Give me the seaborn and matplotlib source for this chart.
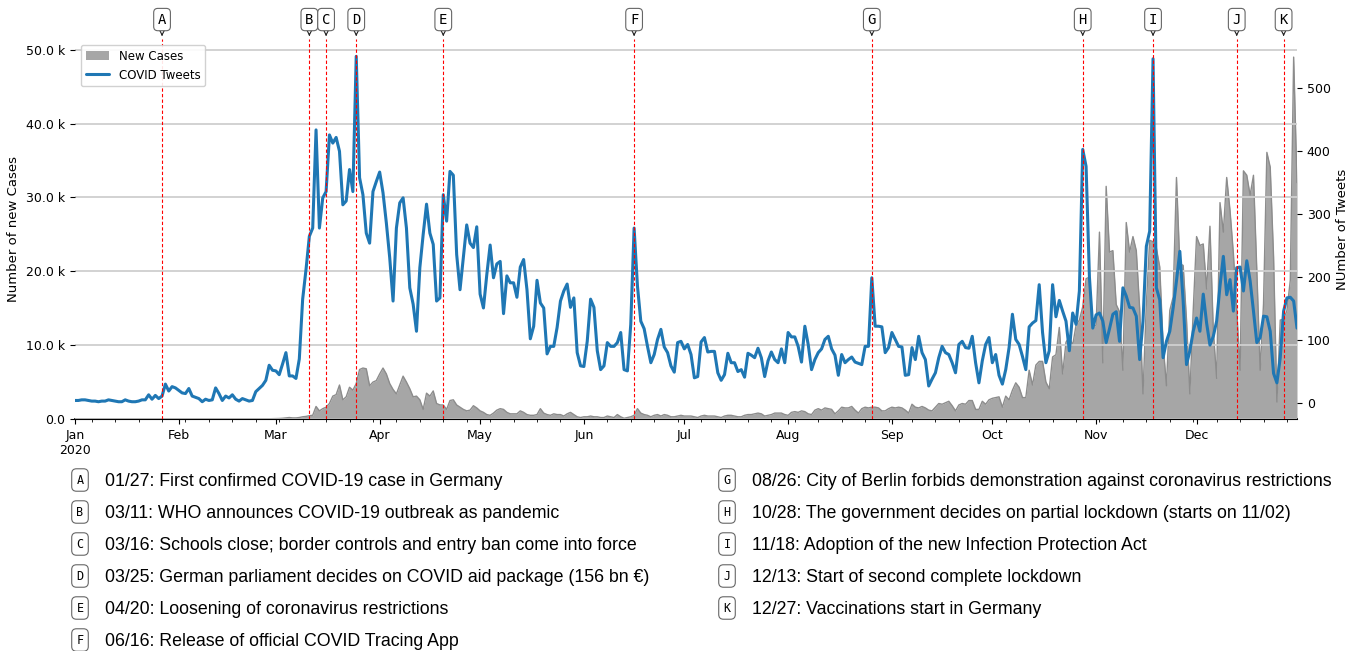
import numpy as np
import pandas as pd
import seaborn as sns
import matplotlib.pyplot as plt
import matplotlib.dates as mdates
from matplotlib.ticker import EngFormatter
from matplotlib.patches import Patch
from matplotlib.lines import Line2D

DATES = pd.date_range("2020-01-01", "2020-12-31", freq="D")

# daily new cases in thousands, one row block per month
NEW_CASES_K = [
    # Jan
    0, 0, 0, 0, 0, 0, 0, 0, 0, 0, 0, 0, 0, 0, 0, 0, 0, 0, 0, 0,
    0, 0, 0, 0, 0, 0, 0, 0, 0, 0, 0,
    # Feb
    0, 0, 0, 0, 0, 0, 0, 0, 0, 0, 0, 0, 0, 0, 0, 0, 0, 0, 0, 0,
    0, 0, 0, 0, 0, 0.01, 0.02, 0.03, 0.05,
    # Mar
    0.05, 0.07, 0.10, 0.15, 0.20, 0.15, 0.15, 0.20, 0.30, 0.35,
    0.45, 0.50, 1.7, 1.1, 1.4, 1.6, 2.1, 3.1, 3.3, 4.6,
    2.6, 3.0, 4.3, 3.9, 4.8, 6.7, 6.9, 6.8, 4.5, 5.0, 5.2,
    # Apr
    6.1, 6.9, 6.1, 4.8, 4.0, 3.4, 4.6, 5.8, 5.0, 4.1,
    3.0, 3.1, 2.6, 1.3, 3.5, 3.1, 3.8, 2.1, 1.9, 1.9,
    1.3, 2.5, 2.6, 1.9, 1.6, 1.3, 1.1, 1.2, 1.8, 1.5,
    # May
    1.1, 0.9, 0.6, 0.5, 0.8, 1.2, 1.4, 1.3, 0.9, 0.7,
    0.7, 0.7, 1.1, 0.9, 0.6, 0.5, 0.5, 0.6, 1.4, 0.8,
    0.6, 0.5, 0.7, 0.6, 0.6, 0.4, 0.7, 0.9, 0.6, 0.3, 0.2,
    # Jun
    0.3, 0.3, 0.4, 0.3, 0.3, 0.2, 0.2, 0.4, 0.3, 0.2,
    0.6, 0.3, 0.1, 0.2, 0.3, 0.5, 1.4, 0.8, 0.6, 0.5,
    0.3, 0.5, 0.6, 0.4, 0.6, 0.5, 0.3, 0.3, 0.4, 0.5,
    # Jul
    0.4, 0.4, 0.4, 0.3, 0.2, 0.4, 0.5, 0.4, 0.4, 0.4,
    0.3, 0.2, 0.4, 0.5, 0.5, 0.4, 0.3, 0.3, 0.5, 0.6,
    0.6, 0.7, 0.8, 0.7, 0.4, 0.5, 0.6, 0.8, 0.8, 0.8, 0.6,
    # Aug
    0.5, 0.9, 1.0, 0.9, 1.1, 1.0, 0.7, 0.6, 1.2, 1.4,
    1.2, 1.5, 1.4, 1.3, 0.7, 1.1, 1.6, 1.5, 1.5, 1.7,
    1.2, 0.8, 1.4, 1.6, 1.5, 1.6, 1.6, 1.5, 1.1, 1.1, 1.4,
    # Sep
    1.6, 1.5, 1.6, 1.5, 1.2, 0.8, 2.0, 1.6, 1.5, 1.7,
    1.5, 1.2, 1.1, 1.6, 2.1, 2.0, 2.2, 2.4, 1.8, 1.1,
    1.9, 2.1, 2.0, 2.5, 2.5, 1.3, 1.3, 2.4, 2.0, 2.6,
    # Oct
    2.8, 2.9, 3.0, 1.6, 3.1, 2.6, 3.9, 4.9, 4.3, 2.9,
    2.9, 6.6, 4.6, 7.3, 7.8, 7.8, 5.0, 4.1, 8.4, 8.7,
    12.4, 6.1, 10.4, 11.1, 10.0, 12.7, 13.4, 15.2, 19.0, 19.2, 12.5,
    # Nov
    12.7, 25.3, 7.6, 31.5, 22.6, 22.8, 15.5, 14.5, 6.6, 26.6,
    22.6, 24.7, 22.8, 15.0, 3.4, 15.6, 24.2, 24.0, 23.1, 20.6,
    10.2, 4.5, 14.7, 16.5, 32.7, 21.0, 20.8, 13.4, 3.4, 14.7,
    # Dec
    24.7, 23.5, 23.7, 17.6, 26.1, 12.0, 5.5, 29.3, 25.3, 32.7,
    28.2, 22.4, 14.7, 6.6, 33.6, 33.0, 30.3, 33.0, 20.1, 6.6,
    15.6, 36.1, 34.1, 22.0, 2.3, 13.4, 13.5, 14.7, 18.8, 49.0, 32.0,
]

# daily number of COVID tweets
TWEETS = [
    # Jan
    4, 4, 5, 5, 4, 3, 3, 2, 3, 3, 5, 4, 3, 2, 2, 5, 3, 2, 2, 3,
    5, 5, 13, 6, 12, 7, 11, 30, 19, 26, 24,
    # Feb
    20, 16, 15, 23, 11, 9, 7, 2, 6, 4, 5, 24, 15, 4, 11, 8, 13, 6, 3,
    7, 5, 3, 4, 18, 23, 28, 36, 60, 52,
    # Mar
    51, 45, 62, 80, 43, 43, 39, 70, 165, 212,
    265, 278, 434, 278, 326, 336, 426, 413, 422, 400,
    315, 321, 371, 336, 551, 358, 331, 270, 254, 336, 352,
    # Apr
    367, 334, 286, 231, 162, 278, 318, 326, 278, 183,
    157, 114, 215, 268, 316, 270, 252, 162, 167, 331,
    289, 368, 362, 236, 180, 231, 283, 254, 247, 280,
    # May
    173, 151, 204, 251, 199, 221, 225, 142, 202, 191,
    191, 168, 216, 228, 180, 102, 122, 195, 159, 151,
    78, 90, 90, 120, 162, 178, 189, 152, 167, 80, 59,
    # Jun
    58, 98, 165, 152, 83, 53, 59, 96, 90, 90,
    96, 112, 53, 51, 125, 278, 186, 130, 118, 90,
    64, 77, 101, 117, 89, 80, 59, 49, 96, 98,
    # Jul
    86, 93, 77, 40, 42, 97, 104, 81, 82, 82,
    48, 36, 45, 79, 64, 64, 50, 53, 41, 79,
    76, 72, 87, 72, 42, 67, 81, 69, 64, 86, 64,
    # Aug
    112, 105, 105, 90, 65, 122, 93, 53, 69, 80,
    86, 101, 106, 86, 76, 44, 77, 64, 69, 73,
    65, 63, 61, 90, 90, 199, 122, 122, 121, 80, 88,
    # Sep
    112, 101, 90, 89, 44, 45, 88, 69, 106, 80,
    69, 27, 38, 48, 72, 90, 80, 77, 64, 48,
    93, 98, 88, 87, 106, 64, 32, 67, 93, 104,
    # Oct
    64, 77, 44, 30, 53, 88, 141, 101, 93, 74,
    53, 121, 127, 131, 188, 112, 64, 83, 188, 137,
    163, 146, 130, 83, 143, 125, 178, 403, 376, 200, 119,
    # Nov
    140, 143, 130, 96, 118, 141, 145, 98, 183, 170,
    152, 151, 138, 69, 130, 249, 273, 547, 183, 164,
    72, 98, 114, 151, 194, 241, 162, 61, 83, 114,
    # Dec
    135, 114, 173, 127, 92, 106, 130, 186, 233, 172,
    196, 146, 215, 216, 178, 226, 194, 146, 96, 104,
    138, 137, 114, 47, 32, 72, 146, 167, 168, 162, 119,
]

MONTH_LABELS = ["Jan\n2020", "Feb", "Mar", "Apr", "May", "Jun",
                "Jul", "Aug", "Sep", "Oct", "Nov", "Dec"]

EVENT_LETTERS = ["A", "B", "C", "D", "E", "F", "G", "H", "I", "J", "K"]
EVENT_DATES = ["2020-01-27", "2020-03-11", "2020-03-16", "2020-03-25", "2020-04-20",
               "2020-06-16", "2020-08-26", "2020-10-28", "2020-11-18", "2020-12-13",
               "2020-12-27"]
EVENT_TEXTS = [
    "01/27: First confirmed COVID-19 case in Germany",
    "03/11: WHO announces COVID-19 outbreak as pandemic",
    "03/16: Schools close; border controls and entry ban come into force",
    "03/25: German parliament decides on COVID aid package (156 bn \u20ac)",
    "04/20: Loosening of coronavirus restrictions",
    "06/16: Release of official COVID Tracing App",
    "08/26: City of Berlin forbids demonstration against coronavirus restrictions",
    "10/28: The government decides on partial lockdown (starts on 11/02)",
    "11/18: Adoption of the new Infection Protection Act",
    "12/13: Start of second complete lockdown",
    "12/27: Vaccinations start in Germany",
]

assert len(NEW_CASES_K) == len(DATES) and len(TWEETS) == len(DATES)

sns.set_style("ticks")
plt.rcParams["font.family"] = ["DejaVu Sans"]
for key in ("text.color", "axes.labelcolor", "xtick.color", "ytick.color", "axes.edgecolor"):
    plt.rcParams[key] = "black"

df = pd.DataFrame({"date": DATES,
                   "cases": np.array(NEW_CASES_K) * 1000,
                   "tweets": TWEETS})

W, H = 1351, 651
fig = plt.figure(figsize=(W / 100, H / 100), dpi=100)
ax = fig.add_axes([75 / W, 1 - 419 / H, (1297 - 75) / W, (419 - 39) / H])
ax2 = ax.twinx()

# new cases area (left axis)
ax.fill_between(df["date"], df["cases"], color="gray", alpha=0.7, lw=0, zorder=1)
sns.lineplot(data=df, x="date", y="cases", ax=ax, color="#8c8c8c", lw=1.0, zorder=1.5)
ax.set_ylim(bottom=0)
ax.set_axisbelow(False)
ax.grid(axis="y", color="#cfcfcf", lw=1.3)
ax.yaxis.set_major_formatter(EngFormatter(places=1))
ax.set_ylabel("Number of new Cases", fontsize=9.5)
ax.set_xlabel("")

# tweets line (right axis)
sns.lineplot(data=df, x="date", y="tweets", ax=ax2, color="#1f77b4", lw=2.2)
ax2.set_ylabel("NUmber of Tweets", fontsize=9.5)
ax2.set_xlabel("")

month_starts = pd.date_range("2020-01-01", "2020-12-01", freq="MS")
ax.set_xticks(month_starts, MONTH_LABELS)
ax.xaxis.set_minor_locator(mdates.WeekdayLocator(byweekday=mdates.MO))
ax.set_xlim(DATES[0], DATES[-1])

for a in (ax, ax2):
    for side in ("top", "left", "right"):
        a.spines[side].set_visible(False)
    a.tick_params(labelsize=9)
ax.spines["bottom"].set_linewidth(1.2)

# event markers
for letter, d in zip(EVENT_LETTERS, EVENT_DATES):
    d = pd.Timestamp(d)
    ax2.axvline(d, color="red", ls=(0, (3, 2)), lw=0.8, zorder=5)
    ax2.annotate(letter, xy=(d, 1.0), xycoords=("data", "axes fraction"),
                 xytext=(0, 14), textcoords="offset points", ha="center", va="center",
                 family="DejaVu Sans Mono", fontsize=10,
                 bbox=dict(boxstyle="round,pad=0.3", fc="white", ec="#666666", lw=0.8),
                 arrowprops=dict(arrowstyle="->", color="#222222", lw=0.8),
                 annotation_clip=False)

handles = [Patch(color="gray", alpha=0.7, lw=0),
           Line2D([], [], color="#1f77b4", lw=2.2)]
ax2.legend(handles, ["New Cases", "COVID Tweets"], loc="upper left", fontsize=8.5,
           framealpha=0.9)

# event descriptions under the chart
for i, (letter, text) in enumerate(zip(EVENT_LETTERS, EVENT_TEXTS)):
    if i < 6:
        bx, ty = 80, 480 + 32 * i
    else:
        bx, ty = 727, 480 + 32 * (i - 6)
    fig.text(bx / W, 1 - ty / H, letter, ha="center", va="center",
             family="DejaVu Sans Mono", fontsize=8.5,
             bbox=dict(boxstyle="round,pad=0.4", fc="white", ec="#666666", lw=0.8))
    fig.text((bx + 25) / W, 1 - (ty + 1) / H, text, ha="left", va="center",
             family="Liberation Sans", fontsize=12.8)

fig.savefig("out.png", dpi=100)
